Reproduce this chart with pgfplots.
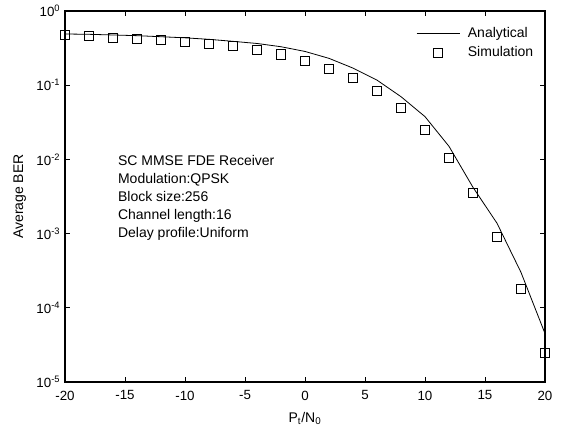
\documentclass[border=0pt]{standalone}
\usepackage{fontspec}
\setmainfont{Liberation Sans}
\usepackage{pgfplots}
\pgfplotsset{compat=1.18}
\usepackage{pgfplotstable}

\pgfplotsset{
  lineleg/.style={legend image code/.code={\draw[##1] (0cm,0cm) -- (1.13cm,0cm);}},
  markleg/.style={legend image code/.code={\draw[##1,mark repeat=2,mark phase=2] plot coordinates {(0cm,0cm) (0.565cm,0cm) (1.13cm,0cm)};}},
}

% analytical curve
\pgfplotstableread{
x y
-20 0.49
-18 0.485
-16 0.475
-14 0.465
-12 0.45
-10 0.435
-8 0.415
-6 0.39
-4 0.365
-2 0.33
0 0.285
2 0.23
4 0.17
6 0.117
8 0.07
10 0.0377
12 0.015
14 0.0042
16 0.00138
18 0.0003
20 0.000045
}\analytic

% simulation points
\pgfplotstableread{
x y
-20 0.475
-18 0.46
-16 0.44
-14 0.42
-12 0.41
-10 0.386
-8 0.363
-6 0.337
-4 0.295
-2 0.26
0 0.21
2 0.164
4 0.125
6 0.083
8 0.0497
10 0.0249
12 0.0105
14 0.00352
16 0.00091
18 0.000178
20 0.000025
}\simul

\begin{document}
\begin{tikzpicture}
\begin{axis}[
  scale only axis,
  width=360pt, height=278.25pt,
  ymode=log, log basis y=10,
  xmin=-20, xmax=20, ymin=1e-5, ymax=1,
  xtick={-20,-15,...,20},
  ytick={1e-5,1e-4,1e-3,1e-2,1e-1,1},
  xticklabel={\pgfmathtruncatemacro\v{round(\tick)}\v},
  yticklabel={\pgfmathtruncatemacro\e{round(\tick)}10\textsuperscript{\e}},
  /pgf/number format/assume math mode=true,
  tick label style={font=\fontsize{10}{12}\selectfont},
  xticklabel style={yshift=-3pt},
  label style={font=\fontsize{10.5}{12.6}\selectfont},
  xlabel={P\textsubscript{t}/N\textsubscript{0}},
  ylabel={Average BER},
  xlabel style={yshift=-2pt},
  ylabel style={yshift=1pt},
  axis line style={line width=0.8pt},
  tick style={black, line width=0.5pt},
  major tick length=4pt, minor tick length=2.2pt,
  legend style={draw=none, fill=none, at={(rel axis cs:0.99,0.97)}, anchor=north east,
    font=\fontsize{10.5}{12.6}\selectfont, row sep=1pt,
    /tikz/every odd column/.append style={column sep=4pt}},
  legend cell align=left,
]
\addplot[black, line width=0.6pt, lineleg] table[x=x,y=y] {\analytic};
\addlegendentry{Analytical}
\addplot[black, only marks, mark=square, mark size=3.4pt, line width=0.6pt, markleg]
  table[x=x,y=y] {\simul};
\addlegendentry{Simulation}
\node[anchor=north west, align=left, inner sep=0pt, font=\fontsize{10.5}{13.5}\selectfont]
  at (rel axis cs:0.110,0.612)
  {SC MMSE FDE Receiver\\Modulation:QPSK\\Block size:256\\Channel length:16\\Delay profile:Uniform};
\end{axis}
\path (current axis.south west) ++(-48.75pt,-37.5pt) coordinate (bl);
\path (current axis.north east) ++(17.25pt,8.25pt) coordinate (tr);
\path (bl) rectangle (tr);
\end{tikzpicture}
\end{document}
